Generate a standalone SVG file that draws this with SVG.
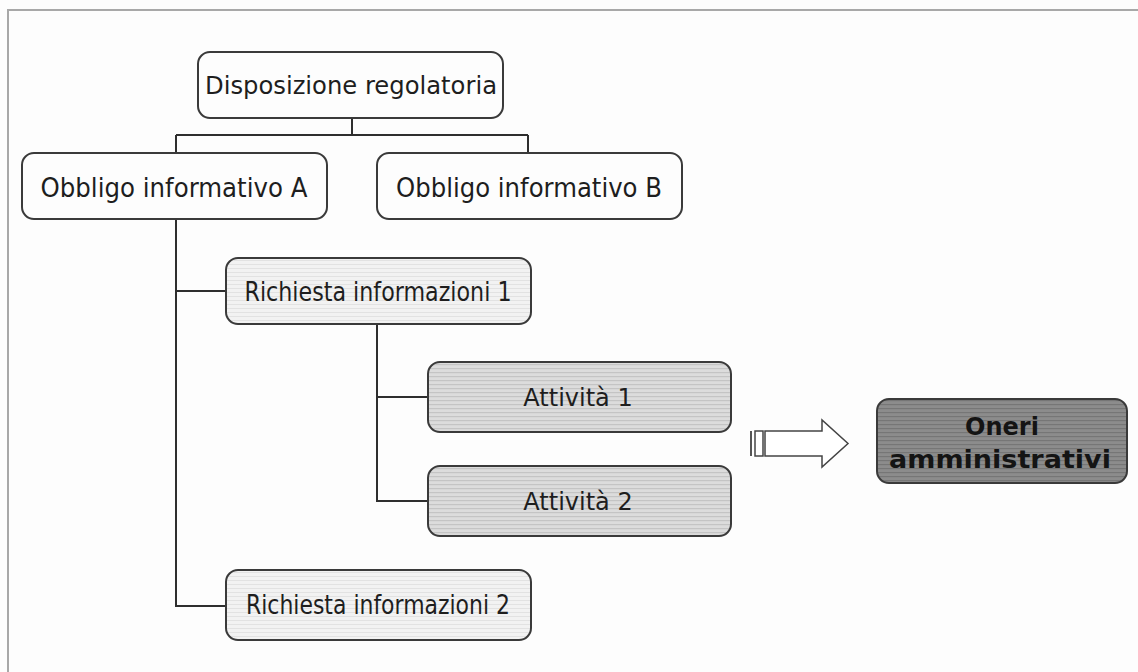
<svg xmlns="http://www.w3.org/2000/svg" width="1138" height="672" viewBox="0 0 1138 672">
<defs>
<pattern id="stripeL" width="8" height="4" patternUnits="userSpaceOnUse">
<rect width="8" height="4" fill="#f2f2f2"/>
<rect y="0" width="8" height="1" fill="#e2e2e2"/>
</pattern>
<pattern id="stripeM" width="8" height="4" patternUnits="userSpaceOnUse">
<rect width="8" height="4" fill="#dcdcdc"/>
<rect y="0" width="8" height="1.2" fill="#c4c4c4"/>
</pattern>
<pattern id="stripeD" width="8" height="4" patternUnits="userSpaceOnUse">
<rect width="8" height="4" fill="#8c8c8c"/>
<rect y="0" width="8" height="1.2" fill="#767676"/>
</pattern>
</defs>
<style>
.box{stroke:#3a3a3a;stroke-width:2}
.w{fill:#fdfdfd}
.l{fill:url(#stripeL)}
.m{fill:url(#stripeM)}
.d{fill:url(#stripeD)}
.t{font-family:"DejaVu Sans",Verdana,sans-serif;font-size:24px;fill:#1e1e1e;text-anchor:middle}
.t2{font-size:26px}
.b{font-family:"DejaVu Sans",Verdana,sans-serif;font-size:24px;font-weight:bold;fill:#141414;text-anchor:middle}
.c{stroke:#2e2e2e;stroke-width:2;fill:none}
.frame{stroke:#a8a8a8;stroke-width:2;fill:none}
</style>
<rect width="1138" height="672" fill="#fdfdfd"/>
<path class="frame" d="M8 672 V10 H1138"/>
<g id="connectors">
<path class="c" d="M352 118 V135 M176 135 H528 M176 135 V153 M528 135 V153"/>
<path class="c" d="M176 219 V606 H226 M176 291 H226"/>
<path class="c" d="M377 324 V501 H428 M377 397 H428"/>
<g id="arrow">
<rect x="750" y="431" width="2" height="25" fill="#555"/>
<rect x="755" y="431" width="8" height="25" fill="#fff" stroke="#444" stroke-width="1.5"/>
<polygon points="765,431 822,431 822,420 848,443.5 822,467 822,456 765,456" fill="#fff" stroke="#444" stroke-width="1.5"/>
</g>
</g>
<g id="n_disposizione">
<rect class="box w" x="198" y="52" width="305" height="66" rx="12"/>
<text class="t" x="351" y="94" textLength="292" lengthAdjust="spacingAndGlyphs">Disposizione regolatoria</text>
</g>
<g id="n_obbligoA">
<rect class="box w" x="22" y="153" width="305" height="66" rx="12"/>
<text class="t t2" x="174" y="197" textLength="267" lengthAdjust="spacingAndGlyphs">Obbligo informativo A</text>
</g>
<g id="n_obbligoB">
<rect class="box w" x="377" y="153" width="305" height="66" rx="12"/>
<text class="t t2" x="529" y="197" textLength="266" lengthAdjust="spacingAndGlyphs">Obbligo informativo B</text>
</g>
<g id="n_richiesta1">
<rect class="box l" x="226" y="258" width="305" height="66" rx="12"/>
<text class="t t2" x="378" y="301" textLength="267" lengthAdjust="spacingAndGlyphs">Richiesta informazioni 1</text>
</g>
<g id="n_attivita1">
<rect class="box m" x="428" y="362" width="303" height="70" rx="12"/>
<text class="t" x="578" y="406">Attività 1</text>
</g>
<g id="n_attivita2">
<rect class="box m" x="428" y="466" width="303" height="70" rx="12"/>
<text class="t" x="578" y="510">Attività 2</text>
</g>
<g id="n_richiesta2">
<rect class="box l" x="226" y="570" width="305" height="70" rx="12"/>
<text class="t t2" x="378" y="614" textLength="264" lengthAdjust="spacingAndGlyphs">Richiesta informazioni 2</text>
</g>
<g id="n_oneri">
<rect class="box d" x="877" y="399" width="250" height="84" rx="12"/>
<text class="b" x="1002" y="435">Oneri</text>
<text class="b" x="1000" y="468" textLength="222" lengthAdjust="spacingAndGlyphs">amministrativi</text>
</g>
</svg>
